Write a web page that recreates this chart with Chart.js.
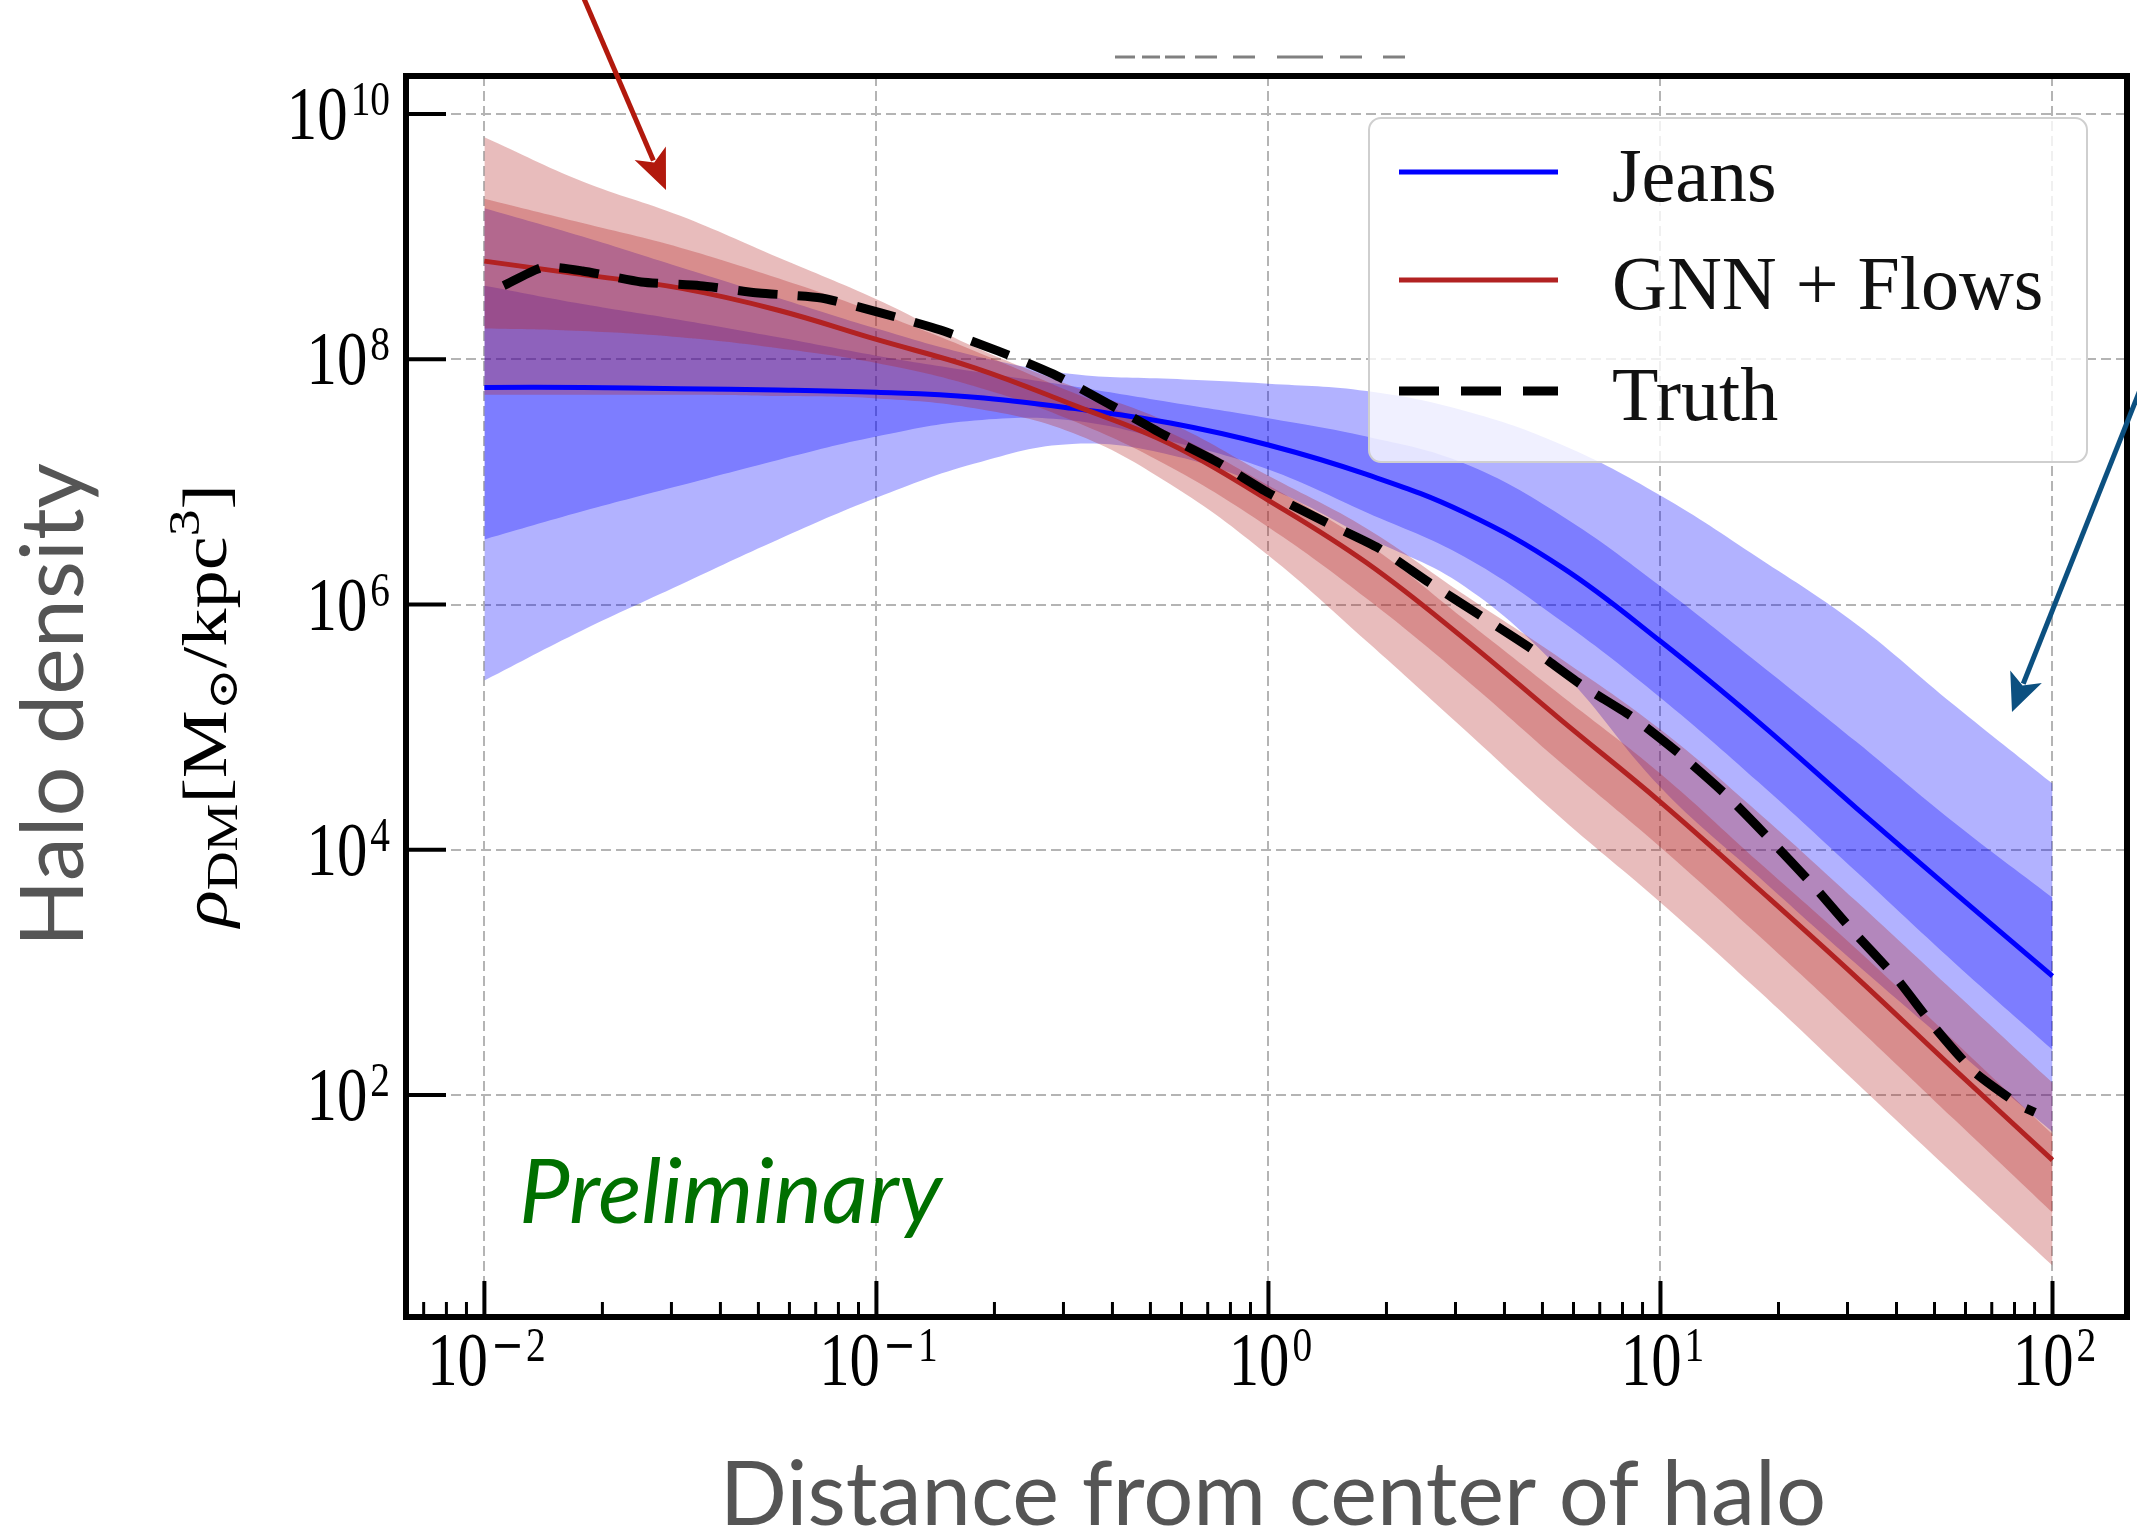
<!DOCTYPE html>
<html>
<head>
<meta charset="utf-8">
<script src="https://cdn.jsdelivr.net/npm/chart.js@4.4.1/dist/chart.umd.min.js"></script>
<style>
  html, body { margin: 0; padding: 0; background: #fff; }
  canvas { display: block; }
</style>
</head>
<body>
<canvas id="halo" width="2137" height="1533"></canvas>
<script>
// radius samples (kpc), quarter-decade steps
const radius = [0.01, 0.0178, 0.0316, 0.0562, 0.1, 0.178, 0.316, 0.562, 1, 1.78, 3.16, 5.62, 10, 17.8, 31.6, 56.2, 100];

// Jeans: median and 68% / 95% bands (Msun/kpc^3)
const jeansMedian = [5.89e7, 5.89e7, 5.75e7, 5.62e7, 5.37e7, 4.90e7, 3.98e7, 3.02e7, 2.00e7, 1.15e7, 5.62e6, 2.00e6, 5.01e5, 1.10e5, 2.19e4, 4.47e3, 9.33e2];
const jeansHi95 = [1.70e9, 1.00e9, 5.62e8, 3.16e8, 1.78e8, 1.07e8, 7.59e7, 6.92e7, 6.31e7, 5.50e7, 3.80e7, 2.00e7, 7.76e6, 2.40e6, 6.92e5, 1.51e5, 3.47e4];
const jeansHi68 = [3.98e8, 2.82e8, 2.09e8, 1.51e8, 1.07e8, 7.94e7, 6.03e7, 4.47e7, 3.31e7, 2.34e7, 1.41e7, 5.25e6, 1.41e6, 3.31e5, 7.59e4, 1.66e4, 4.07e3];
const jeansLo68 = [3.39e6, 5.75e6, 9.33e6, 1.51e7, 2.34e7, 3.16e7, 3.16e7, 2.14e7, 1.26e7, 5.62e6, 2.45e6, 7.24e5, 1.74e5, 3.55e4, 6.61e3, 1.20e3, 2.34e2];
const jeansLo95 = [2.40e5, 6.17e5, 1.45e6, 3.39e6, 7.41e6, 1.41e7, 2.04e7, 1.66e7, 8.91e6, 3.55e6, 1.41e6, 2.82e5, 3.24e4, 6.03e3, 1.17e3, 2.40e2, 5.01e1];

// GNN + Flows: median and bands
const gnnMedian = [6.31e8, 4.90e8, 3.80e8, 2.51e8, 1.45e8, 8.51e7, 4.27e7, 2.04e7, 7.08e6, 2.19e6, 5.25e5, 1.12e5, 2.45e4, 4.79e3, 9.12e2, 1.62e2, 2.95e1];
const gnnHi95 = [6.46e9, 2.82e9, 1.48e9, 6.76e8, 3.09e8, 1.26e8, 6.03e7, 3.02e7, 1.12e7, 4.17e6, 1.20e6, 3.55e5, 9.55e4, 2.00e4, 3.80e3, 6.92e2, 1.26e2];
const gnnHi68 = [2.04e9, 1.29e9, 8.13e8, 4.57e8, 2.40e8, 1.17e8, 5.37e7, 2.51e7, 9.33e6, 3.16e6, 7.59e5, 1.78e5, 4.17e4, 7.94e3, 1.55e3, 2.75e2, 4.79e1];
const gnnLo68 = [1.78e8, 1.70e8, 1.51e8, 1.23e8, 9.33e7, 6.03e7, 3.16e7, 1.32e7, 4.27e6, 1.12e6, 2.51e5, 5.01e4, 1.05e4, 2.00e3, 3.63e2, 6.31e1, 1.10e1];
const gnnLo95 = [5.13e7, 5.13e7, 5.13e7, 5.01e7, 4.79e7, 3.98e7, 2.51e7, 9.55e6, 2.51e6, 5.01e5, 9.55e4, 1.78e4, 3.72e3, 7.08e2, 1.26e2, 2.24e1, 4.07];

// true profile
const truthRadius = [0.0112, 0.0141, 0.0178, 0.0251, 0.0355, 0.0501, 0.0724, 0.102, 0.145, 0.204, 0.282, 0.389, 0.537, 0.741, 1.0, 1.40, 1.91, 2.57, 3.47, 4.68, 6.31, 8.51, 11.2, 14.8, 19.1, 24.5, 30.9, 39.8, 50.1, 63.1, 83.2, 90.2];
const truthDensity = [3.98e8, 5.62e8, 5.25e8, 4.27e8, 3.98e8, 3.47e8, 3.16e8, 2.40e8, 1.74e8, 1.17e8, 7.59e7, 4.37e7, 2.45e7, 1.45e7, 8.13e6, 4.68e6, 2.88e6, 1.51e6, 8.13e5, 4.37e5, 2.19e5, 1.20e5, 6.03e4, 2.75e4, 1.20e4, 5.13e3, 2.19e3, 9.12e2, 3.55e2, 1.55e2, 8.13e1, 7.24e1];

// tick labels are 10^p
const xTickPowers = [-2, -1, 0, 1, 2];
const yTickPowers = [2, 4, 6, 8, 10];

const BLUE = '#0000ff';
const RED = '#b22222';
const BLUE_BAND = 'rgba(0, 0, 255, 0.3)';
const RED_BAND = 'rgba(178, 34, 34, 0.3)';
const SERIF = '"Liberation Serif", "DejaVu Serif", serif';

const pts = (xs, ys) => xs.map((v, i) => ({x: v, y: ys[i]}));

function edge(label, data, fillTo, color, order) {
  return {
    label: label,
    data: pts(radius, data),
    fill: fillTo === null ? false : fillTo,
    backgroundColor: color,
    borderColor: 'transparent',
    borderWidth: 0,
    pointRadius: 0,
    tension: 0.4,
    order: order
  };
}

const datasets = [
  {label: 'Truth', data: pts(truthRadius, truthDensity), borderColor: '#000', borderWidth: 9,
   borderDash: [40, 20], borderCapStyle: 'butt', pointRadius: 0, fill: false, tension: 0.2, order: 0},
  {label: 'GNN + Flows', data: pts(radius, gnnMedian), borderColor: RED, borderWidth: 5,
   pointRadius: 0, fill: false, tension: 0.4, order: 1},
  {label: 'Jeans', data: pts(radius, jeansMedian), borderColor: BLUE, borderWidth: 5,
   pointRadius: 0, fill: false, tension: 0.4, order: 2},
  edge('gnn hi68', gnnHi68, 4, RED_BAND, 3),
  edge('gnn lo68', gnnLo68, null, RED_BAND, 3),
  edge('gnn hi95', gnnHi95, 6, RED_BAND, 4),
  edge('gnn lo95', gnnLo95, null, RED_BAND, 4),
  edge('jeans hi68', jeansHi68, 8, BLUE_BAND, 5),
  edge('jeans lo68', jeansLo68, null, BLUE_BAND, 5),
  edge('jeans hi95', jeansHi95, 10, BLUE_BAND, 6),
  edge('jeans lo95', jeansLo95, null, BLUE_BAND, 6)
];

function seg(ctx, x1, y1, x2, y2) {
  ctx.beginPath(); ctx.moveTo(x1, y1); ctx.lineTo(x2, y2); ctx.stroke();
}

// "10" with a raised exponent, like matplotlib mathtext
function powLabel(ctx, p, px, py, align) {
  const BASE = '76px ' + SERIF, SUP = '48px ' + SERIF, MINUS = '48px "DejaVu Serif"';
  const bx = 0.8, sx = 0.82;
  ctx.font = BASE;
  const wb = ctx.measureText('10').width * bx;
  ctx.font = MINUS;
  const wm = p < 0 ? ctx.measureText('\u2212').width * sx + 2 : 0;
  ctx.font = SUP;
  const wd = ctx.measureText(String(Math.abs(p))).width * sx;
  const w = wb + 3 + wm + wd;
  const x0 = align === 'right' ? px - w : px - w / 2;
  ctx.save();
  ctx.translate(x0, py); ctx.scale(bx, 1);
  ctx.font = BASE;
  ctx.fillText('10', 0, 0);
  ctx.restore();
  ctx.save();
  ctx.translate(x0 + wb + 3, py - 24); ctx.scale(sx, 1);
  if (p < 0) {
    ctx.font = MINUS;
    ctx.fillText('\u2212', 0, 0);
  }
  ctx.font = SUP;
  ctx.fillText(String(Math.abs(p)), wm / sx, 0);
  ctx.restore();
}

function fitFont(ctx, text, style, family, width) {
  ctx.font = style + ' 100px ' + family;
  const size = 100 * width / ctx.measureText(text).width;
  ctx.font = style + ' ' + size.toFixed(1) + 'px ' + family;
}

function arrow(ctx, x1, y1, x2, y2, color, head, half, lw) {
  const len = Math.hypot(x2 - x1, y2 - y1);
  const ux = (x2 - x1) / len, uy = (y2 - y1) / len;
  ctx.strokeStyle = color; ctx.fillStyle = color; ctx.lineWidth = lw;
  seg(ctx, x1, y1, x2 - ux * head * 0.8, y2 - uy * head * 0.8);
  const bx = x2 - ux * head, by = y2 - uy * head;
  ctx.beginPath();
  ctx.moveTo(x2, y2);
  ctx.lineTo(bx - uy * half, by + ux * half);
  ctx.lineTo(x2 - ux * head * 0.75, y2 - uy * head * 0.75);
  ctx.lineTo(bx + uy * half, by - ux * half);
  ctx.closePath();
  ctx.fill();
}

const decor = {
  id: 'decor',
  afterDraw(chart) {
    const ctx = chart.ctx, a = chart.chartArea;
    const xs = chart.scales.x, ys = chart.scales.y;
    ctx.save();

    // legend
    const lx = 1369, ly = 118, lw = 718, lh = 344, r = 12;
    ctx.beginPath();
    ctx.roundRect(lx, ly, lw, lh, r);
    ctx.fillStyle = 'rgba(255,255,255,0.8)';
    ctx.fill();
    ctx.strokeStyle = '#cfcfcf'; ctx.lineWidth = 2;
    ctx.stroke();
    const rows = [[172, 'Jeans', BLUE, []], [280, 'GNN + Flows', RED, []], [391, 'Truth', '#000', [40, 22]]];
    rows.forEach(row => {
      ctx.save();
      ctx.strokeStyle = row[2];
      ctx.lineWidth = row[3].length ? 9 : 5;
      ctx.setLineDash(row[3]);
      ctx.lineCap = 'butt';
      seg(ctx, 1399, row[0], 1558, row[0]);
      ctx.restore();
      ctx.fillStyle = '#111';
      ctx.font = '76px ' + SERIF;
      ctx.textAlign = 'left';
      ctx.fillText(row[1], 1612, row[0] + 29);
    });

    // frame
    ctx.strokeStyle = '#000'; ctx.lineWidth = 6; ctx.setLineDash([]);
    ctx.strokeRect(a.left, a.top, a.right - a.left, a.bottom - a.top);

    // inward ticks
    ctx.lineWidth = 4;
    yTickPowers.forEach(p => {
      const py = ys.getPixelForValue(10 ** p);
      seg(ctx, a.left, py, a.left + 40, py);
    });
    xTickPowers.forEach(p => {
      const px = xs.getPixelForValue(10 ** p);
      seg(ctx, px, a.bottom, px, a.bottom - 36);
    });
    ctx.lineWidth = 3;
    for (let p = -3; p <= 2; p++) {
      for (let m = 2; m <= 9; m++) {
        const v = m * 10 ** p;
        if (v < xs.min || v > xs.max) continue;
        const px = xs.getPixelForValue(v);
        seg(ctx, px, a.bottom, px, a.bottom - 15);
      }
    }

    // tick labels
    ctx.fillStyle = '#000';
    ctx.textAlign = 'left';
    ctx.textBaseline = 'alphabetic';
    yTickPowers.forEach(p => powLabel(ctx, p, a.left - 16, ys.getPixelForValue(10 ** p) + 25, 'right'));
    xTickPowers.forEach(p => powLabel(ctx, p, xs.getPixelForValue(10 ** p) + 2, a.bottom + 68, 'center'));

    // rho_DM [M_sun / kpc^3]
    const parts = [
      ['\u03C1', 'italic 64px ' + SERIF, 0],
      ['DM', '45px ' + SERIF, 11],
      ['[M', '64px ' + SERIF, 0],
      ['\u2299', '42px "DejaVu Serif"', 11],
      ['/kpc', '64px ' + SERIF, 0],
      ['3', '45px ' + SERIF, -27],
      [']', '64px ' + SERIF, 0]
    ];
    let total = 0;
    parts.forEach(pt => { ctx.font = pt[1]; pt.push(ctx.measureText(pt[0]).width); total += pt[3]; });
    ctx.save();
    ctx.translate(226, 927);
    ctx.rotate(-Math.PI / 2);
    ctx.scale(443 / total, 1);
    let cx = 0;
    parts.forEach(pt => { ctx.font = pt[1]; ctx.fillText(pt[0], cx, pt[2]); cx += pt[3]; });
    ctx.restore();

    // slide labels
    ctx.fillStyle = '#555555';
    ctx.save();
    ctx.translate(83, 705);
    ctx.rotate(-Math.PI / 2);
    ctx.textAlign = 'center';
    fitFont(ctx, 'Halo density', '', 'Lato', 484);
    ctx.fillText('Halo density', 0, 0);
    ctx.restore();

    ctx.textAlign = 'center';
    fitFont(ctx, 'Distance from center of halo', '', 'Lato', 1106);
    ctx.fillText('Distance from center of halo', 1273, 1525);

    ctx.fillStyle = '#007000';
    ctx.textAlign = 'left';
    fitFont(ctx, 'Preliminary', 'italic', 'Lato', 423);
    ctx.fillText('Preliminary', 519, 1223);

    // arrows pointing at the bands
    arrow(ctx, 582, -6, 666, 190, '#b2190d', 40, 17, 5);
    arrow(ctx, 2142, 385, 2012, 712, '#0c5080', 38, 17, 5);

    // cut-off title remnant above the frame
    ctx.strokeStyle = '#808080'; ctx.lineWidth = 3;
    [[1115, 1135], [1142, 1160], [1165, 1185], [1195, 1217], [1233, 1255], [1277, 1323], [1340, 1362], [1383, 1405]]
      .forEach(s => seg(ctx, s[0], 57, s[1], 57));

    ctx.restore();
  }
};

new Chart(document.getElementById('halo'), {
  type: 'line',
  data: {datasets: datasets},
  options: {
    responsive: false,
    animation: false,
    devicePixelRatio: 1,
    events: [],
    layout: {padding: {left: 406, right: 10, top: 76, bottom: 216}},
    plugins: {legend: {display: false}, tooltip: {enabled: false}},
    scales: {
      x: {
        type: 'logarithmic',
        min: 0.00631,
        max: 154.9,
        afterBuildTicks: s => { s.ticks = xTickPowers.map(p => ({value: 10 ** p})); },
        afterFit: s => { s.height = 0; },
        ticks: {display: false},
        grid: {color: '#b4b4b4', lineWidth: 2, drawTicks: false},
        border: {display: false, dash: [10, 5]}
      },
      y: {
        type: 'logarithmic',
        min: 1.55,
        max: 2.04e10,
        afterBuildTicks: s => { s.ticks = yTickPowers.map(p => ({value: 10 ** p})); },
        afterFit: s => { s.width = 0; },
        ticks: {display: false},
        grid: {color: '#b4b4b4', lineWidth: 2, drawTicks: false},
        border: {display: false, dash: [10, 5]}
      }
    }
  },
  plugins: [decor]
});
</script>
</body>
</html>
